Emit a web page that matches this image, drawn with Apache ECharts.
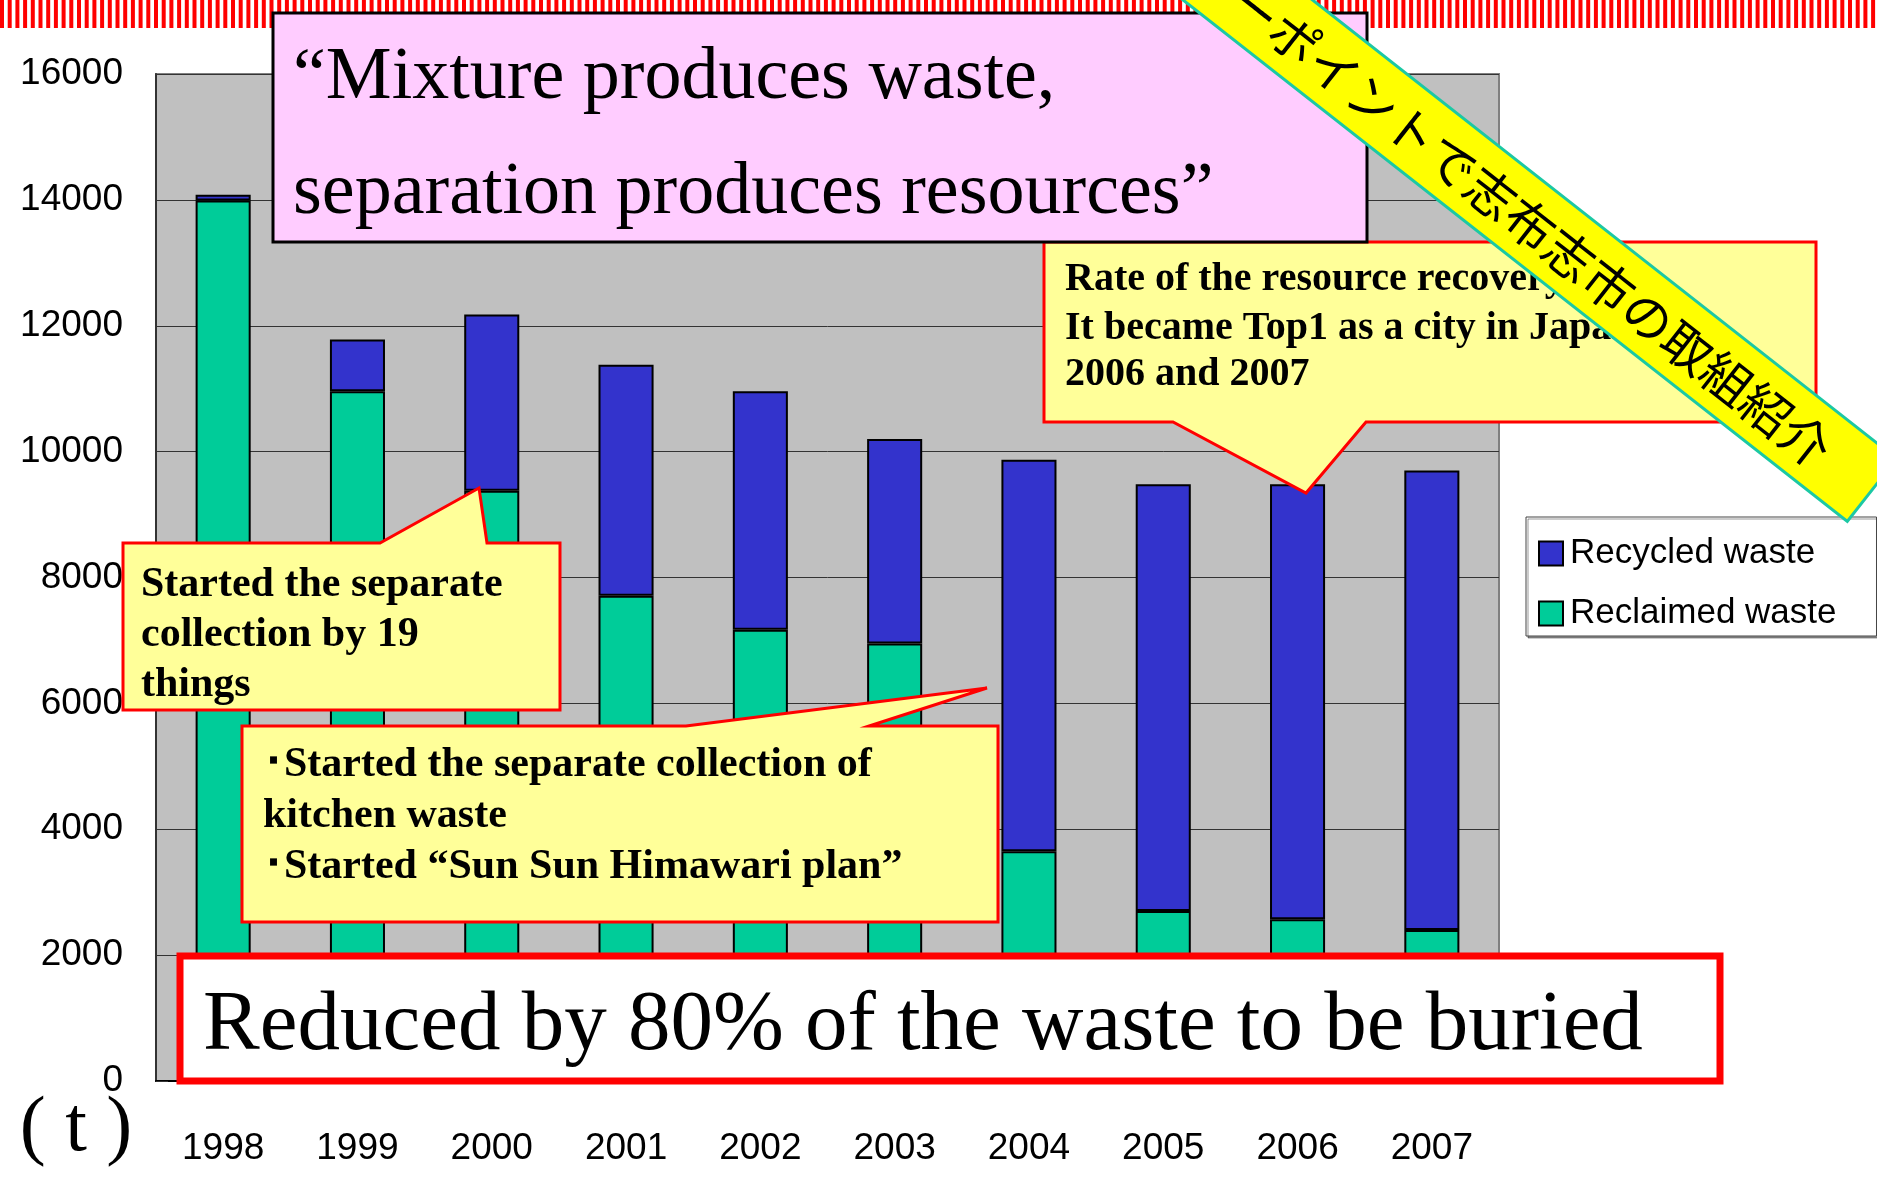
<!DOCTYPE html>
<html>
<head>
<meta charset="utf-8">
<script src="https://cdn.jsdelivr.net/npm/echarts@6/dist/echarts.min.js"></script>
<style>
  html, body { margin: 0; padding: 0; background: #fff; }
  #main { width: 1877px; height: 1183px; }
</style>
</head>
<body>
<div id="main"></div>
<script>
// data (t)
const years = ['1998', '1999', '2000', '2001', '2002', '2003', '2004', '2005', '2006', '2007']
const reclaimed = [13990, 10960, 9380, 7710, 7170, 6950, 3650, 2700, 2570, 2400]
const recycled = [90, 820, 2800, 3670, 3790, 3250, 6220, 6780, 6910, 7300]
const yMin = 0
const yMax = 16000
const yStep = 2000

const serif = "'Liberation Serif', 'Times New Roman', serif"
const sans = "'Liberation Sans', Arial, sans-serif"

// red striped band along the top
const stripes = []
for (let x = 0; x < 1877; x += 7.7) {
  stripes.push({
    type: 'rect', z: 50, silent: true,
    shape: { x: x, y: 0, width: 4, height: 28 },
    style: { fill: '#FF0000' }
  })
}

function callout(points, z) {
  return {
    type: 'polygon', z: z, silent: true,
    shape: { points: points },
    style: { fill: '#FFFF99', stroke: '#FF0000', lineWidth: 3 }
  }
}
function txt(text, x, y, size, z, weight) {
  return {
    type: 'text', z: z || 200, silent: true,
    style: {
      text: text, x: x, y: y,
      font: (weight || 'bold') + ' ' + size + 'px ' + serif,
      fill: '#000', textAlign: 'left', textVerticalAlign: 'middle'
    }
  }
}

const bannerAngle = Math.atan(0.785)

const myChart = echarts.init(document.getElementById('main'))
const option = {
  animation: false,
  backgroundColor: '#fff',
  grid: {
    left: 156, right: 378, top: 74, bottom: 102,
    outerBoundsMode: 'none',
    show: true, backgroundColor: '#C0C0C0', borderColor: '#808080', borderWidth: 2
  },
  legend: {
    orient: 'vertical',
    left: 1526, top: 517,
    data: ['Recycled waste', 'Reclaimed waste'],
    icon: 'rect',
    itemWidth: 24, itemHeight: 24, itemGap: 25,
    padding: [19, 40, 5, 12],
    backgroundColor: '#fff', borderColor: '#444', borderWidth: 1,
    shadowColor: 'rgba(0,0,0,0.4)', shadowOffsetX: 2, shadowOffsetY: 2,
    textStyle: { fontSize: 35, fontFamily: sans, color: '#000', padding: [0, 0, 0, 2] }
  },
  xAxis: {
    type: 'category',
    data: years,
    axisLine: { lineStyle: { color: '#000', width: 2 } },
    axisTick: { show: false },
    axisLabel: { fontSize: 37, fontFamily: sans, color: '#000', margin: 49 }
  },
  yAxis: {
    type: 'value',
    min: yMin, max: yMax, interval: yStep,
    axisLine: { show: true, lineStyle: { color: '#333', width: 2 } },
    axisTick: { show: true, inside: true, length: 12, lineStyle: { color: '#333' } },
    splitLine: { lineStyle: { color: '#333', width: 1 } },
    axisLabel: { fontSize: 37, fontFamily: sans, color: '#000', margin: 33, padding: [7, 0, 0, 0], formatter: v => String(v) }
  },
  series: [
    {
      name: 'Reclaimed waste', type: 'bar', stack: 'waste',
      data: reclaimed, barWidth: '41%',
      itemStyle: { color: '#00CC99', borderColor: '#000', borderWidth: 2 }
    },
    {
      name: 'Recycled waste', type: 'bar', stack: 'waste',
      data: recycled, barWidth: '41%',
      itemStyle: { color: '#3333CC', borderColor: '#000', borderWidth: 2 }
    }
  ],
  graphic: stripes.concat([
    // callout: recovery rate
    callout([[1044, 242], [1816, 242], [1816, 422], [1366, 422], [1306, 493], [1173, 422], [1044, 422]], 100),
    txt('Rate of the resource recovery:', 1065, 280, 40, 101),
    txt('It became Top1 as a city in Japan in', 1065, 329, 40, 101),
    txt('2006 and 2007', 1065, 375, 40, 101),
    // title box
    {
      type: 'rect', z: 110, silent: true,
      shape: { x: 273, y: 13, width: 1094, height: 229 },
      style: { fill: '#FFCCFF', stroke: '#000', lineWidth: 3 }
    },
    txt('“Mixture produces waste,', 293, 79, 74, 111, 'normal'),
    txt('separation produces resources”', 293, 194, 74, 111, 'normal'),
    // diagonal banner
    {
      type: 'group', z: 130, x: 1872, y: 490, rotation: -bannerAngle, silent: true,
      children: [
        {
          type: 'rect', z: 130,
          shape: { x: -1100, y: -40, width: 1100, height: 80 },
          style: { fill: '#FFFF00', stroke: '#1CC8A4', lineWidth: 3 }
        },
        {
          type: 'text', z: 131,
          style: {
            text: 'ーポイントで志布志市の取組紹介', x: -433, y: 2,
            font: '50px "Noto Sans CJK JP", sans-serif',
            fill: '#000', textAlign: 'center', textVerticalAlign: 'middle'
          }
        }
      ]
    },
    // callout: 19 things
    callout([[123, 543], [380, 543], [479, 488], [487, 543], [560, 543], [560, 710], [123, 710]], 100),
    txt('Started the separate', 141, 585, 42),
    txt('collection by 19', 141, 635, 42),
    txt('things', 141, 685, 42),
    // callout: kitchen waste
    callout([[242, 726], [686, 726], [987, 688], [869, 726], [998, 726], [998, 922], [242, 922]], 100),
    txt('･Started the separate collection of', 263, 765, 42),
    txt('kitchen waste', 263, 816, 42),
    txt('･Started “Sun Sun Himawari plan”', 263, 867, 42),
    // bottom message
    {
      type: 'rect', z: 100, silent: true,
      shape: { x: 180, y: 956, width: 1540, height: 125 },
      style: { fill: '#fff', stroke: '#FF0000', lineWidth: 7 }
    },
    txt('Reduced by 80% of the waste to be buried', 203, 1027, 85, 101, 'normal'),
    {
      type: 'text', z: 101, silent: true,
      style: { text: '( t )', x: 76, y: 1130, font: '78px ' + serif, fill: '#000', textAlign: 'center', textVerticalAlign: 'middle' }
    }
  ])
}
myChart.setOption(option)
</script>
</body>
</html>
